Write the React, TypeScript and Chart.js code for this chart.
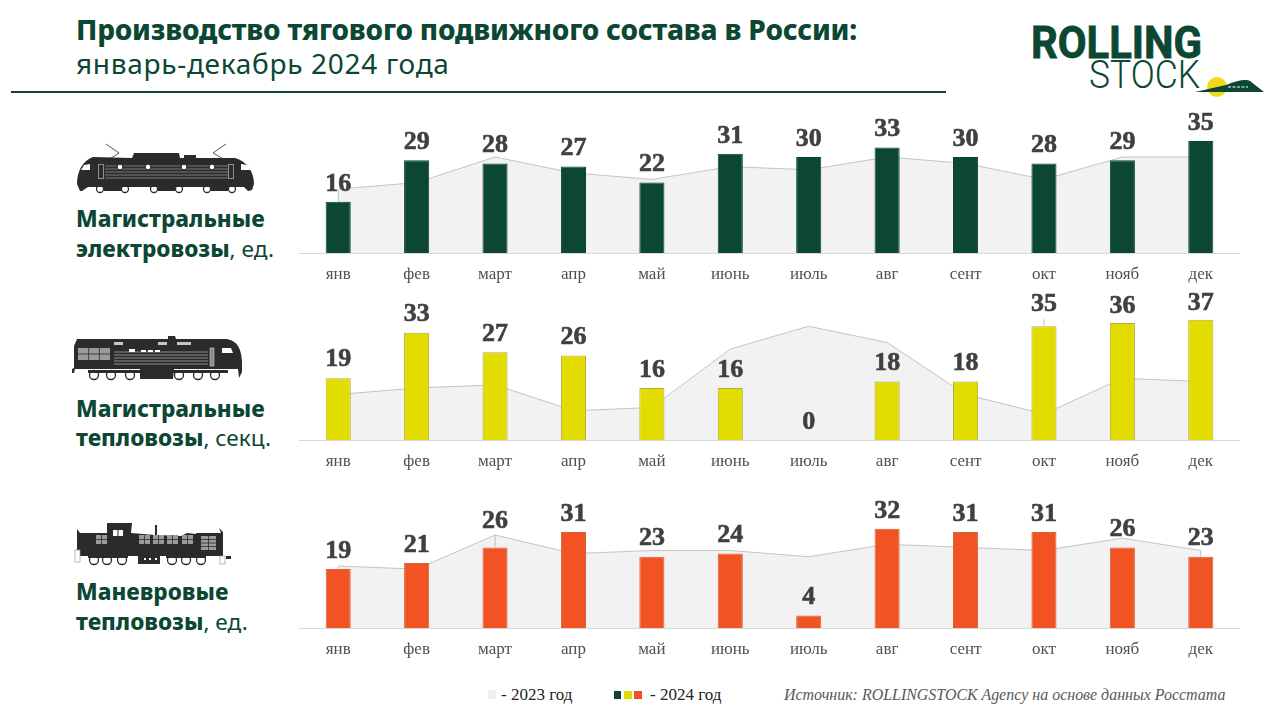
import { useEffect, useRef } from "react";
import { Chart, registerables } from "chart.js";
Chart.register(...registerables);

const months = ["янв", "фев", "март", "апр", "май", "июнь", "июль", "авг", "сент", "окт", "нояб", "дек"];

const electric2024 = [16, 29, 28, 27, 22, 31, 30, 33, 30, 28, 29, 35];
const electric2023 = [20, 22, 30, 25, 23, 27, 26, 30, 28, 23, 30, 30];
const diesel2024 = [19, 33, 27, 26, 16, 16, 0, 18, 18, 35, 36, 37];
const diesel2023 = [14, 16, 17, 9, 10, 28, 35, 30, 14, 8, 19, 18];
const shunter2024 = [19, 21, 26, 31, 23, 24, 4, 32, 31, 31, 26, 23];
const shunter2023 = [20, 19, 30, 24, 25, 25, 23, 27, 26, 25, 29, 25];

const GREEN = "#0b4733";
const SERIF = '"Liberation Serif", serif';
const HEAD = '"Noto Sans", sans-serif';
const AXIS_H = 36;

type PanelProps = {
  top: number;
  plotH: number;
  yMax: number;
  bars: number[];
  prev: number[];
  color: string;
  edge: string;
  nudge?: Record<number, number>;
  leaders?: Record<number, number>;
};

// value labels + thin leader lines
const valueLabels = {
  id: "valueLabels",
  afterDatasetsDraw(chart: any, _args: any, opts: any) {
    const { ctx } = chart;
    const meta = chart.getDatasetMeta(0);
    ctx.save();
    meta.data.forEach((bar: any, i: number) => {
      const lead = opts.leaders?.[i];
      if (lead) {
        ctx.strokeStyle = "#bdbdbd";
        ctx.lineWidth = 1;
        ctx.beginPath();
        ctx.moveTo(bar.x, bar.y);
        ctx.lineTo(bar.x, bar.y - lead);
        ctx.stroke();
      }
      ctx.fillStyle = "#404040";
      ctx.strokeStyle = "#404040";
      ctx.lineWidth = 0.6;
      ctx.font = `bold 26px ${SERIF}`;
      ctx.textAlign = "center";
      ctx.textBaseline = "middle";
      const gap = opts.nudge?.[i] ?? 18;
      const text = String(chart.data.datasets[0].data[i]);
      ctx.fillText(text, bar.x, bar.y - gap);
      ctx.strokeText(text, bar.x, bar.y - gap);
    });
    ctx.restore();
  },
};

function Panel({ top, plotH, yMax, bars, prev, color, edge, nudge, leaders }: PanelProps) {
  const ref = useRef<HTMLCanvasElement | null>(null);

  useEffect(() => {
    if (!ref.current) return;
    const chart = new Chart(ref.current, {
      type: "bar",
      plugins: [valueLabels],
      data: {
        labels: months,
        datasets: [
          {
            type: "bar",
            data: bars,
            backgroundColor: color,
            borderColor: edge,
            borderWidth: 1,
            categoryPercentage: 1,
            barPercentage: 0.32,
            order: 1,
          },
          {
            type: "line",
            data: prev,
            borderColor: "#c4c4c4",
            borderWidth: 1,
            backgroundColor: "#f2f2f2",
            fill: "origin",
            pointRadius: 0,
            tension: 0,
            order: 2,
          },
        ],
      } as any,
      options: {
        responsive: false,
        animation: false,
        layout: { padding: 0 },
        plugins: {
          legend: { display: false },
          tooltip: { enabled: false },
          valueLabels: { nudge, leaders },
        } as any,
        scales: {
          x: {
            offset: true,
            grid: { display: false, drawTicks: false },
            border: { display: true, color: "#d9d9d9", width: 1 },
            ticks: {
              color: "#505050",
              font: { family: SERIF, size: 17 },
              padding: 11,
              maxRotation: 0,
              autoSkip: false,
            },
            afterFit: (scale: any) => {
              scale.height = AXIS_H;
            },
          },
          y: { display: false, min: 0, max: yMax },
        },
      },
    });
    return () => chart.destroy();
  }, []);

  return (
    <canvas
      ref={ref}
      width={941}
      height={plotH + AXIS_H}
      style={{ position: "absolute", left: 299, top, width: 941, height: plotH + AXIS_H }}
    />
  );
}

function Label({ top, lines }: { top: number; lines: [string, string][] }) {
  return (
    <div style={{ position: "absolute", left: 76, top, color: GREEN, fontFamily: HEAD, fontSize: 22.6, lineHeight: "29.5px", whiteSpace: "nowrap" }}>
      {lines.map(([b, r]) => (
        <div key={b}>
          <b style={{ fontWeight: 800 }}>{b}</b>
          {r}
        </div>
      ))}
    </div>
  );
}

function Grid({ x, y, w, h, cols, rows }: { x: number; y: number; w: number; h: number; cols: number; rows: number }) {
  const lines = [];
  for (let c = 1; c < cols; c++) lines.push(<line key={"c" + c} x1={x + (w * c) / cols} x2={x + (w * c) / cols} y1={y} y2={y + h} stroke="#2b2b2b" strokeWidth="0.8" />);
  for (let r = 1; r < rows; r++) lines.push(<line key={"r" + r} x1={x} x2={x + w} y1={y + (h * r) / rows} y2={y + (h * r) / rows} stroke="#2b2b2b" strokeWidth="0.8" />);
  return (
    <g>
      <rect x={x} y={y} width={w} height={h} fill="#9a9a9a" />
      {lines}
    </g>
  );
}

function Wheels({ xs, y, r }: { xs: number[]; y: number; r: number }) {
  return (
    <g fill="#fff" stroke="#2b2b2b" strokeWidth="1.3">
      {xs.map((x) => (
        <circle key={x} cx={x} cy={y} r={r} />
      ))}
    </g>
  );
}

function Artwork() {
  const dark = "#2b2b2b";
  return (
    <svg width="1280" height="713" style={{ position: "absolute", left: 0, top: 0 }}>
      {/* electric loco */}
      <path d="M106 144L119 153L108 160M226 144L213 153L225 160" fill="none" stroke={dark} strokeWidth="0.8" />
      <Wheels xs={[100, 125, 154, 179, 207, 232]} y={189} r={3.5} />
      <path d="M104 186H121V191H104ZM158 186H175V191H158ZM211 186H228V191H211Z" fill={dark} />
      <path d="M77 184C77 172 82 161 93 157L132 158L134 153L179 153L180 158L184 158L184 155L196 155L196 158L235 158C247 161 254 172 254 184L252 190L248 191L244 187L88 187L82 191L80 191Z" fill={dark} />
      <path d="M81 170L84 165L90 164L90 170ZM241 164L247 165L251 170L241 170Z" fill="#fff" />
      <g stroke="#8f8f8f" strokeWidth="0.8">
        <path d="M105 166H228M105 169H228M105 172H228M105 175H228M105 178H228" />
      </g>
      <rect x="98.5" y="164.5" width="5" height="14" fill="none" stroke="#8f8f8f" />
      <rect x="228.5" y="164.5" width="5" height="14" fill="none" stroke="#8f8f8f" />
      <g fill="#fff" stroke={dark} strokeWidth="1">
        <circle cx="120" cy="167" r="2.8" />
        <circle cx="148" cy="167" r="2.8" />
        <circle cx="184" cy="167" r="2.8" />
        <circle cx="212" cy="167" r="2.8" />
      </g>

      {/* mainline diesel */}
      <Wheels xs={[94, 111, 130, 179, 198, 215]} y={375} r={4.5} />
      <path d="M88 370H140V373H88ZM173 370H228V373H173Z" fill={dark} />
      <path d="M74 346L77 339L168 339L168 336L175 336L176 339L227 339C236 341 241 346 242 362L242 372L239 378L238 369L174 369L173 379L140 379L140 369L75 369L74 373L72 373L72 369L74 368Z" fill={dark} />
      <Grid x={78} y={348} w={32} h={12} cols={3} rows={2} />
      <g stroke="#9a9a9a" strokeWidth="0.9">
        <path d="M114 352H208M114 355H208M114 358H208M114 361H208M114 364H208" />
      </g>
      <g fill="#c8c8c8">
        <rect x="114" y="342" width="9" height="3" />
        <rect x="158" y="342" width="9" height="3" />
        <rect x="177" y="342" width="14" height="3" />
      </g>
      <g fill="#fff">
        <rect x="129" y="349" width="6" height="3" />
        <rect x="141" y="350" width="5" height="2" />
        <rect x="148" y="350" width="5" height="2" />
        <rect x="155" y="350" width="5" height="2" />
        <path d="M222 348L231 348L233 353L222 353Z" />
      </g>
      <rect x="210" y="348" width="4" height="18" fill="#8a8a8a" stroke="#ddd" strokeWidth="0.5" />

      {/* shunter */}
      <Wheels xs={[94, 107, 122, 172, 186, 201]} y={560} r={4.5} />
      <path d="M88 555H128V558H88ZM166 555H206V558H166Z" fill={dark} />
      <path d="M77 556L77 529L80 533L107 533L107 523L132 523L131 533L155 535L155 525L157 525L157 535L181 536L187 533L196 534L196 533L221 533L219 528L223 532L223 556L160 556L160 564L138 564L138 556Z" fill={dark} />
      <rect x="113" y="530" width="4.5" height="6" fill="#fff" />
      <rect x="118.5" y="530" width="4.5" height="6" fill="#fff" />
      <Grid x={96} y={535} w={11} h={9} cols={2} rows={2} />
      <Grid x={139} y={535} w={11} h={9} cols={2} rows={2} />
      <Grid x={153} y={535} w={11} h={9} cols={2} rows={2} />
      <Grid x={167} y={535} w={11} h={9} cols={2} rows={2} />
      <Grid x={182} y={535} w={11} h={9} cols={2} rows={2} />
      <Grid x={201} y={536} w={15} h={14} cols={2} rows={4} />
      <g fill="#fff">
        <rect x="144" y="558" width="2" height="2" />
        <rect x="149" y="558" width="2" height="2" />
        <rect x="155" y="558" width="2" height="2" />
      </g>
      <rect x="75" y="550" width="5" height="12" fill="#fff" stroke="#999" strokeWidth="0.7" />
      <rect x="220" y="556" width="5" height="8" fill="#fff" stroke="#999" strokeWidth="0.7" />
      <rect x="226" y="556" width="5" height="3" fill={dark} />

      {/* logo */}
      <text x="1031" y="58" fontFamily="Roboto, sans-serif" fontWeight="700" fontSize="44" fill={GREEN} stroke={GREEN} strokeWidth="0.8" textLength="171" lengthAdjust="spacingAndGlyphs">ROLLING</text>
      <text x="1089" y="88" fontFamily="Roboto, sans-serif" fontWeight="300" fontSize="39" fill={GREEN} textLength="111" lengthAdjust="spacingAndGlyphs">STOCK</text>
      <circle cx="1217" cy="87" r="10" fill="#f4d81c" />
      <path d="M1195 92L1226 85C1238 80 1246 79 1250 81L1264 92Z" fill={GREEN} />
      <path d="M1228 87H1248" stroke="#fff" strokeWidth="1" strokeDasharray="3 1.5" />
    </svg>
  );
}

export default function App() {
  return (
    <div style={{ position: "absolute", left: 0, top: 0, width: 1280, height: 713, overflow: "hidden", background: "#fff" }}>
      <Artwork />
      <div style={{ position: "absolute", left: 76, top: 10, color: GREEN, fontFamily: HEAD, fontSize: 28, fontWeight: 800, letterSpacing: -0.2, lineHeight: "38px", whiteSpace: "nowrap" }}>
        Производство тягового подвижного состава в России:
      </div>
      <div style={{ position: "absolute", left: 76, top: 44, color: GREEN, fontFamily: HEAD, fontSize: 28, letterSpacing: 0.7, lineHeight: "38px", whiteSpace: "nowrap" }}>
        январь-декабрь 2024 года
      </div>
      <div style={{ position: "absolute", left: 11, top: 91, width: 935, height: 2, background: GREEN }} />

      <Label top={204} lines={[["Магистральные", ""], ["электровозы", ", ед."]]} />
      <Label top={393.5} lines={[["Магистральные", ""], ["тепловозы", ", секц."]]} />
      <Label top={577} lines={[["Маневровые", ""], ["тепловозы", ", ед."]]} />

      <Panel top={93} plotH={160} yMax={50} bars={electric2024} prev={electric2023} color={GREEN} edge={GREEN} leaders={{ 0: 12 }} />
      <Panel top={284} plotH={156} yMax={48} bars={diesel2024} prev={diesel2023} color="#e3dc00" edge="#b3ad3c" nudge={{ 0: 19, 9: 22, 10: 17, 11: 16 }} leaders={{ 9: 7 }} />
      <Panel top={473} plotH={155} yMax={50} bars={shunter2024} prev={shunter2023} color="#f15322" edge="#d9623c" nudge={{ 2: 26 }} leaders={{ 0: 2, 2: 12, 11: 6 }} />

      <div style={{ position: "absolute", left: 488, top: 690, width: 8, height: 9, background: "#efefef" }} />
      <div style={{ position: "absolute", left: 501, top: 685, fontFamily: SERIF, fontSize: 17, color: "#222", whiteSpace: "nowrap" }}>- 2023 год</div>
      <div style={{ position: "absolute", left: 614, top: 691, width: 7, height: 8, background: GREEN }} />
      <div style={{ position: "absolute", left: 624, top: 691, width: 8, height: 8, background: "#e3dc00" }} />
      <div style={{ position: "absolute", left: 634, top: 691, width: 8, height: 8, background: "#f15322" }} />
      <div style={{ position: "absolute", left: 650, top: 685, fontFamily: SERIF, fontSize: 17, color: "#222", whiteSpace: "nowrap" }}>- 2024 год</div>
      <div style={{ position: "absolute", left: 784, top: 685, fontFamily: SERIF, fontStyle: "italic", fontSize: 17, color: "#595959", whiteSpace: "nowrap", transform: "scaleX(0.938)", transformOrigin: "left center" }}>
        Источник: ROLLINGSTOCK Agency на основе данных Росстата
      </div>
    </div>
  );
}
